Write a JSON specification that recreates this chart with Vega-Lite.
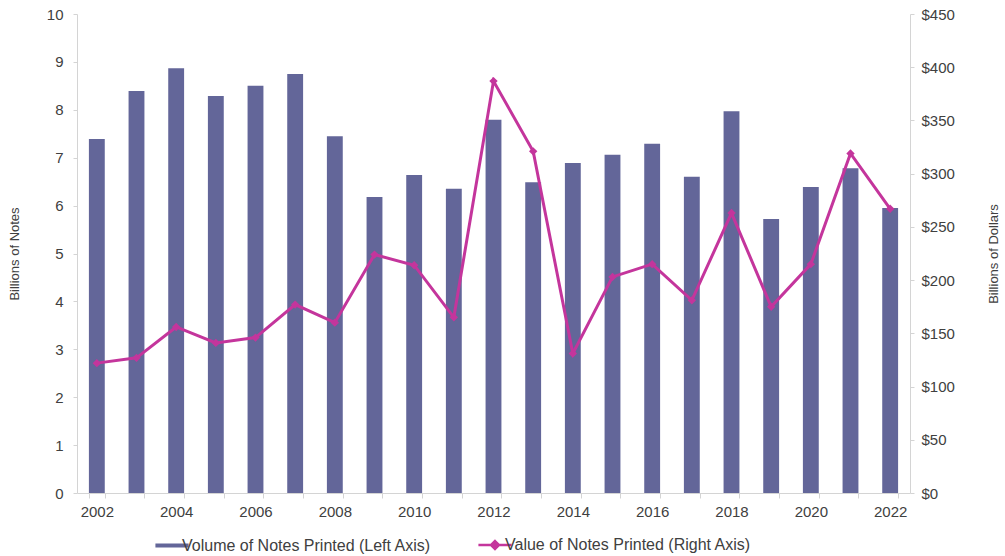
{
  "$schema": "https://vega.github.io/schema/vega-lite/v6.json",
  "autosize": "none",
  "width": 833,
  "height": 479,
  "padding": {"left": 77, "top": 14, "right": 95, "bottom": 63},
  "background": "white",
  "config": {
    "font": "Liberation Sans",
    "view": {"stroke": null},
    "axis": {
      "labelFont": "Liberation Sans",
      "labelFontSize": 15,
      "labelColor": "#404040",
      "titleFont": "Liberation Sans",
      "titleFontSize": 13,
      "titleFontWeight": "normal",
      "titleColor": "#404040",
      "domainColor": "#d4d4d4",
      "tickColor": "#d4d4d4",
      "grid": false
    }
  },
  "data": {
    "values": [
      {"year": 2002, "notes": 7.39, "value": 122},
      {"year": 2003, "notes": 8.39, "value": 127},
      {"year": 2004, "notes": 8.87, "value": 156},
      {"year": 2005, "notes": 8.29, "value": 141},
      {"year": 2006, "notes": 8.50, "value": 146},
      {"year": 2007, "notes": 8.75, "value": 177},
      {"year": 2008, "notes": 7.45, "value": 160},
      {"year": 2009, "notes": 6.18, "value": 224},
      {"year": 2010, "notes": 6.64, "value": 214},
      {"year": 2011, "notes": 6.35, "value": 165},
      {"year": 2012, "notes": 7.79, "value": 387},
      {"year": 2013, "notes": 6.49, "value": 321},
      {"year": 2014, "notes": 6.89, "value": 131},
      {"year": 2015, "notes": 7.06, "value": 203},
      {"year": 2016, "notes": 7.29, "value": 215},
      {"year": 2017, "notes": 6.60, "value": 181},
      {"year": 2018, "notes": 7.97, "value": 263},
      {"year": 2019, "notes": 5.72, "value": 175},
      {"year": 2020, "notes": 6.39, "value": 215},
      {"year": 2021, "notes": 6.78, "value": 319},
      {"year": 2022, "notes": 5.95, "value": 267}
    ]
  },
  "encoding": {
    "x": {
      "field": "year",
      "type": "ordinal",
      "scale": {"paddingInner": 0.6, "paddingOuter": 0.3},
      "axis": {
        "title": null,
        "labelAngle": 0,
        "labelExpr": "datum.value % 2 === 0 ? datum.label : ''",
        "tickBand": "extent",
        "tickSize": 5,
        "labelPadding": 6
      }
    }
  },
  "layer": [
    {
      "mark": {"type": "bar"},
      "encoding": {
        "y": {
          "field": "notes",
          "type": "quantitative",
          "scale": {"domain": [0, 10], "nice": false},
          "axis": {
            "title": "Billions of Notes",
            "values": [0, 1, 2, 3, 4, 5, 6, 7, 8, 9, 10],
            "tickSize": 4,
            "labelPadding": 10,
            "titlePadding": 25
          }
        },
        "color": {
          "datum": "Volume of Notes Printed (Left Axis)",
          "type": "nominal",
          "scale": {
            "domain": ["Volume of Notes Printed (Left Axis)", "Value of Notes Printed (Right Axis)"],
            "range": ["#636699", "#c4359c"]
          },
          "legend": {
            "title": null,
            "orient": "none",
            "direction": "horizontal",
            "legendX": 87,
            "legendY": 523,
            "columns": 2,
            "columnPadding": 42,
            "labelFont": "Liberation Sans",
            "labelFontSize": 16,
            "labelColor": "#404040",
            "labelLimit": 400,
            "labelOffset": 2,
            "symbolSize": 1100,
            "symbolStrokeWidth": 2.5,
            "symbolOpacity": 1,
            "encode": {
              "symbols": {
                "update": {
                  "shape": {"signal": "datum.value === 'Volume of Notes Printed (Left Axis)' ? 'M-1,-0.12H1V0.12H-1Z' : 'M-1,0H1M0,-0.24L0.24,0L0,0.24L-0.24,0Z'"},
                  "fill": {"signal": "datum.value === 'Volume of Notes Printed (Left Axis)' ? '#636699' : '#c4359c'"},
                  "stroke": {"signal": "datum.value === 'Volume of Notes Printed (Left Axis)' ? '#636699' : '#c4359c'"},
                  "strokeWidth": {"signal": "datum.value === 'Volume of Notes Printed (Left Axis)' ? 0 : 2.5"},
                  "opacity": {"value": 1}
                }
              }
            }
          }
        }
      }
    },
    {
      "mark": {
        "type": "line",
        "strokeWidth": 3,
        "point": {"shape": "diamond", "size": 70, "filled": true}
      },
      "encoding": {
        "y": {
          "field": "value",
          "type": "quantitative",
          "scale": {"domain": [0, 450], "nice": false},
          "axis": {
            "orient": "right",
            "title": "Billions of Dollars",
            "titleAngle": 270,
            "values": [0, 50, 100, 150, 200, 250, 300, 350, 400, 450],
            "format": "$.0f",
            "tickSize": 4,
            "labelPadding": 7,
            "titlePadding": 46
          }
        },
        "color": {"datum": "Value of Notes Printed (Right Axis)", "type": "nominal"}
      }
    }
  ],
  "resolve": {"scale": {"y": "independent"}}
}
